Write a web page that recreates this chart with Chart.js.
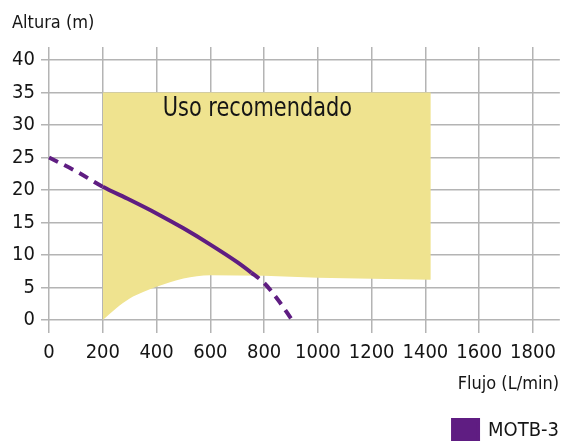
<!DOCTYPE html>
<html>
<head>
<meta charset="utf-8">
<script src="https://cdn.jsdelivr.net/npm/chart.js@4.4.0/dist/chart.umd.min.js"></script>
<style>
  html, body { margin: 0; padding: 0; background: #fff; }
  #wrap { width: 564px; height: 441px; position: relative; }
</style>
</head>
<body>
<div id="wrap"><canvas id="pumpchart"></canvas></div>
<script>
// curva de la bomba (L/min, m)
var flowPts = [0, 100, 200, 300, 400, 500, 600, 700, 752, 800, 850, 904];
var headPts = [25, 22.9, 20.5, 18.5, 16.4, 14.1, 11.6, 8.9, 7.3, 5.7, 3.2, 0];
// zona de uso recomendado
var zoneFlow = [200, 250, 300, 350, 400, 500, 600, 800, 900, 1000, 1200, 1420];
var zoneLow = [0, 1.8, 3.3, 4.3, 5.1, 6.4, 6.9, 6.8, 6.65, 6.5, 6.35, 6.2];
var zoneHigh = [35, 35, 35, 35, 35, 35, 35, 35, 35, 35, 35, 35];
var xTicks = [0, 200, 400, 600, 800, 1000, 1200, 1400, 1600, 1800];
var yTicks = [0, 5, 10, 15, 20, 25, 30, 35, 40];
var solidFrom = 200, solidTo = 752;

var FONT = "'DejaVu Sans Condensed', 'DejaVu Sans', sans-serif";
var PURPLE = '#5f1d82';
var INK = '#151515';

function toXY(xs, ys) {
    return xs.map(function (x, i) { return { x: x, y: ys[i] }; });
}

// textos: zona recomendada y titulos de ejes
const chartTexts = {
    id: 'chartTexts',
    afterDatasetsDraw(chart) {
        const { ctx, scales: { x, y } } = chart;
        ctx.save();
        ctx.fillStyle = INK;
        ctx.textBaseline = 'middle';
        // etiqueta de la zona
        ctx.save();
        ctx.translate(x.getPixelForValue(775), y.getPixelForValue(32.4));
        ctx.scale(0.86, 1);
        ctx.font = "27px " + FONT;
        ctx.textAlign = 'center';
        ctx.fillText('Uso recomendado', 0, 0);
        ctx.restore();
        // titulos
        ctx.font = "18px " + FONT;
        ctx.textAlign = 'left';
        ctx.fillText('Altura (m)', 12, 23);
        ctx.textAlign = 'right';
        ctx.fillText('Flujo (L/min)', 559, 384);
        ctx.restore();
    }
};

var ctx = document.getElementById('pumpchart');
var pumpChart = new Chart(ctx, {
    type: 'line',
    data: {
        datasets: [{
            label: 'zona',
            data: toXY(zoneFlow, zoneHigh),
            borderWidth: 0,
            pointRadius: 0,
            backgroundColor: '#efe38f',
            fill: '+1',
            order: 3
        },
        {
            label: 'zona-base',
            data: toXY(zoneFlow, zoneLow),
            borderWidth: 0,
            pointRadius: 0,
            cubicInterpolationMode: 'monotone',
            fill: false,
            order: 3
        },
        {
            label: 'MOTB-3',
            data: toXY(flowPts, headPts),
            borderColor: PURPLE,
            backgroundColor: PURPLE,
            borderWidth: 4,
            pointRadius: 0,
            cubicInterpolationMode: 'monotone',
            fill: false,
            order: 1,
            segment: {
                borderDash: function (c) {
                    var x0 = c.p0.parsed.x;
                    return (x0 < solidFrom || x0 >= solidTo) ? [10, 7] : undefined;
                }
            }
        }]
    },
    options: {
        responsive: true,
        maintainAspectRatio: false,
        animation: false,
        layout: {
            padding: { left: 12, right: 3, top: 47, bottom: -11 }
        },
        scales: {
            x: {
                type: 'linear',
                min: -30,
                max: 1900,
                afterBuildTicks: function (axis) {
                    axis.ticks = xTicks.map(function (v) { return { value: v }; });
                },
                afterFit: function (axis) { axis.height = 85; },
                grid: { color: '#b4b4b4', lineWidth: 1.5, drawTicks: false },
                border: { display: false },
                ticks: {
                    color: INK,
                    padding: 8,
                    font: { family: FONT, size: 20 },
                    maxRotation: 0,
                    callback: function (v) { return String(v); }
                }
            },
            y: {
                type: 'linear',
                min: -2,
                max: 42,
                afterBuildTicks: function (axis) {
                    axis.ticks = yTicks.map(function (v) { return { value: v }; });
                },
                afterFit: function (axis) { axis.width = 29; },
                grid: { color: '#b4b4b4', lineWidth: 1.5, drawTicks: false },
                border: { display: false },
                ticks: {
                    color: INK,
                    padding: 6,
                    font: { family: FONT, size: 20 }
                }
            }
        },
        plugins: {
            legend: {
                position: 'bottom',
                align: 'end',
                labels: {
                    filter: function (item) { return item.text === 'MOTB-3'; },
                    boxWidth: 25,
                    boxHeight: 22,
                    color: INK,
                    padding: 2,
                    font: { family: FONT, size: 20 }
                }
            },
            tooltip: { enabled: false }
        }
    },
    plugins: [chartTexts]
});
</script>
</body>
</html>
